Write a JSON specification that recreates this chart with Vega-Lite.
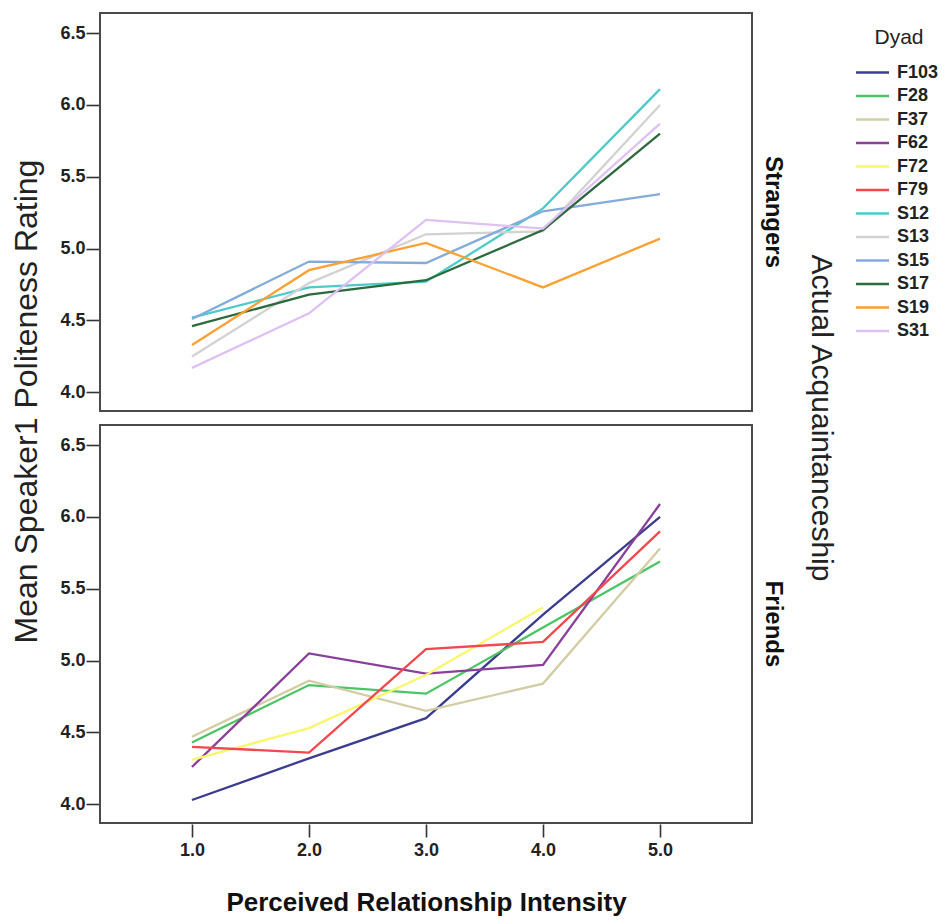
{
  "$schema": "https://vega.github.io/schema/vega-lite/v6.json",
  "padding": {"left": 10, "top": 12, "right": 2, "bottom": 2},
  "background": "white",
  "title": {
    "text": "Mean Speaker1 Politeness Rating",
    "orient": "left",
    "anchor": "middle",
    "fontSize": 32,
    "fontWeight": "normal",
    "font": "Liberation Sans",
    "color": "#222222",
    "offset": 16,
    "dx": 62
  },
  "data": {
    "values": [
      {"acq": "Strangers", "dyad": "S12", "x": 1, "y": 4.52},
      {"acq": "Strangers", "dyad": "S12", "x": 2, "y": 4.73},
      {"acq": "Strangers", "dyad": "S12", "x": 3, "y": 4.77},
      {"acq": "Strangers", "dyad": "S12", "x": 4, "y": 5.28},
      {"acq": "Strangers", "dyad": "S12", "x": 5, "y": 6.11},
      {"acq": "Strangers", "dyad": "S13", "x": 1, "y": 4.25},
      {"acq": "Strangers", "dyad": "S13", "x": 2, "y": 4.76},
      {"acq": "Strangers", "dyad": "S13", "x": 3, "y": 5.10},
      {"acq": "Strangers", "dyad": "S13", "x": 4, "y": 5.12},
      {"acq": "Strangers", "dyad": "S13", "x": 5, "y": 6.00},
      {"acq": "Strangers", "dyad": "S15", "x": 1, "y": 4.51},
      {"acq": "Strangers", "dyad": "S15", "x": 2, "y": 4.91},
      {"acq": "Strangers", "dyad": "S15", "x": 3, "y": 4.90},
      {"acq": "Strangers", "dyad": "S15", "x": 4, "y": 5.26},
      {"acq": "Strangers", "dyad": "S15", "x": 5, "y": 5.38},
      {"acq": "Strangers", "dyad": "S17", "x": 1, "y": 4.46},
      {"acq": "Strangers", "dyad": "S17", "x": 2, "y": 4.68},
      {"acq": "Strangers", "dyad": "S17", "x": 3, "y": 4.78},
      {"acq": "Strangers", "dyad": "S17", "x": 4, "y": 5.13},
      {"acq": "Strangers", "dyad": "S17", "x": 5, "y": 5.80},
      {"acq": "Strangers", "dyad": "S19", "x": 1, "y": 4.33},
      {"acq": "Strangers", "dyad": "S19", "x": 2, "y": 4.85},
      {"acq": "Strangers", "dyad": "S19", "x": 3, "y": 5.04},
      {"acq": "Strangers", "dyad": "S19", "x": 4, "y": 4.73},
      {"acq": "Strangers", "dyad": "S19", "x": 5, "y": 5.07},
      {"acq": "Strangers", "dyad": "S31", "x": 1, "y": 4.17},
      {"acq": "Strangers", "dyad": "S31", "x": 2, "y": 4.55},
      {"acq": "Strangers", "dyad": "S31", "x": 3, "y": 5.20},
      {"acq": "Strangers", "dyad": "S31", "x": 4, "y": 5.14},
      {"acq": "Strangers", "dyad": "S31", "x": 5, "y": 5.87},
      {"acq": "Friends", "dyad": "F103", "x": 1, "y": 4.03},
      {"acq": "Friends", "dyad": "F103", "x": 2, "y": 4.32},
      {"acq": "Friends", "dyad": "F103", "x": 3, "y": 4.60},
      {"acq": "Friends", "dyad": "F103", "x": 4, "y": 5.32},
      {"acq": "Friends", "dyad": "F103", "x": 5, "y": 6.00},
      {"acq": "Friends", "dyad": "F28", "x": 1, "y": 4.43},
      {"acq": "Friends", "dyad": "F28", "x": 2, "y": 4.83},
      {"acq": "Friends", "dyad": "F28", "x": 3, "y": 4.77},
      {"acq": "Friends", "dyad": "F28", "x": 4, "y": 5.23},
      {"acq": "Friends", "dyad": "F28", "x": 5, "y": 5.69},
      {"acq": "Friends", "dyad": "F37", "x": 1, "y": 4.47},
      {"acq": "Friends", "dyad": "F37", "x": 2, "y": 4.86},
      {"acq": "Friends", "dyad": "F37", "x": 3, "y": 4.65},
      {"acq": "Friends", "dyad": "F37", "x": 4, "y": 4.84},
      {"acq": "Friends", "dyad": "F37", "x": 5, "y": 5.78},
      {"acq": "Friends", "dyad": "F62", "x": 1, "y": 4.26},
      {"acq": "Friends", "dyad": "F62", "x": 2, "y": 5.05},
      {"acq": "Friends", "dyad": "F62", "x": 3, "y": 4.91},
      {"acq": "Friends", "dyad": "F62", "x": 4, "y": 4.97},
      {"acq": "Friends", "dyad": "F62", "x": 5, "y": 6.09},
      {"acq": "Friends", "dyad": "F72", "x": 1, "y": 4.31},
      {"acq": "Friends", "dyad": "F72", "x": 2, "y": 4.53},
      {"acq": "Friends", "dyad": "F72", "x": 3, "y": 4.90},
      {"acq": "Friends", "dyad": "F72", "x": 4, "y": 5.37},
      {"acq": "Friends", "dyad": "F79", "x": 1, "y": 4.40},
      {"acq": "Friends", "dyad": "F79", "x": 2, "y": 4.36},
      {"acq": "Friends", "dyad": "F79", "x": 3, "y": 5.08},
      {"acq": "Friends", "dyad": "F79", "x": 4, "y": 5.13},
      {"acq": "Friends", "dyad": "F79", "x": 5, "y": 5.90}
    ]
  },
  "facet": {
    "row": {
      "field": "acq",
      "type": "nominal",
      "sort": ["Strangers", "Friends"],
      "title": "Actual Acquaintanceship",
      "header": {
        "labelOrient": "right",
        "labelAngle": 90,
        "labelFontSize": 24,
        "labelFontWeight": "bold",
        "labelFont": "Liberation Sans",
        "labelColor": "#111111",
        "labelPadding": 8,
        "titleOrient": "right",
        "titleAngle": 90,
        "titleFontSize": 30,
        "titleFontWeight": "normal",
        "titleFont": "Liberation Sans",
        "titleColor": "#222222",
        "titlePadding": 11
      }
    }
  },
  "spacing": 12,
  "spec": {
    "width": 652,
    "height": 398,
    "mark": {"type": "line", "strokeWidth": 2.3, "clip": true},
    "encoding": {
      "x": {
        "field": "x",
        "type": "quantitative",
        "title": "Perceived Relationship Intensity",
        "scale": {"domain": [0.214, 5.786], "nice": false, "zero": false},
        "axis": {
          "values": [1, 2, 3, 4, 5],
          "format": ".1f",
          "grid": false,
          "domain": false,
          "tickSize": 13,
          "tickWidth": 1.6,
          "tickColor": "#333333",
          "labelPadding": 4,
          "labelFontSize": 18,
          "labelFontWeight": "bold",
          "labelFont": "Liberation Sans",
          "labelColor": "#222222",
          "titleFontSize": 26,
          "titleFontWeight": "bold",
          "titleFont": "Liberation Sans",
          "titleColor": "#111111",
          "titlePadding": 30
        }
      },
      "y": {
        "field": "y",
        "type": "quantitative",
        "title": null,
        "scale": {"domain": [3.87, 6.64], "nice": false, "zero": false},
        "axis": {
          "values": [4.0, 4.5, 5.0, 5.5, 6.0, 6.5],
          "format": ".1f",
          "grid": false,
          "domain": false,
          "tickSize": 13,
          "tickWidth": 1.6,
          "tickColor": "#333333",
          "labelPadding": 1,
          "labelFontSize": 18,
          "labelFontWeight": "bold",
          "labelFont": "Liberation Sans",
          "labelColor": "#222222"
        }
      },
      "color": {
        "field": "dyad",
        "type": "nominal",
        "title": "Dyad",
        "scale": {
          "domain": ["F103", "F28", "F37", "F62", "F72", "F79", "S12", "S13", "S15", "S17", "S19", "S31"],
          "range": ["#3b3c8f", "#4cc466", "#d2cda4", "#8a3f99", "#f8f66a", "#f2484e", "#4dcbca", "#d2d2d2", "#84abda", "#2d6a3d", "#f9a132", "#dfc0f2"]
        },
        "legend": {
          "symbolType": "M-1.5,0H1.5",
          "symbolSize": 484,
          "symbolStrokeWidth": 2.6,
          "labelOffset": 12,
          "labelFontSize": 18,
          "labelFontWeight": "bold",
          "labelFont": "Liberation Sans",
          "labelColor": "#222222",
          "titleFontSize": 21,
          "titleFontWeight": "normal",
          "titleFont": "Liberation Sans",
          "titleColor": "#222222",
          "titleAnchor": "middle",
          "titlePadding": 12,
          "rowPadding": 1.5,
          "offset": 10,
          "padding": 14
        }
      }
    }
  },
  "config": {
    "view": {"stroke": "#4a4a4a", "strokeWidth": 2},
    "font": "Liberation Sans"
  }
}
